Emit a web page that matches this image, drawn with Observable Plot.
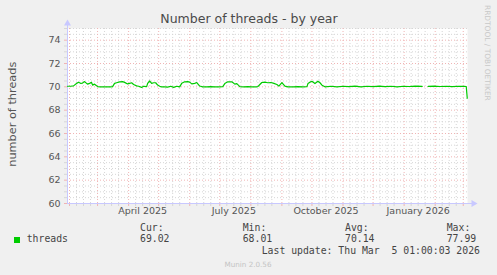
<!DOCTYPE html>
<html><head><meta charset="utf-8">
<script src="https://cdn.jsdelivr.net/npm/d3@7"></script>
<script src="https://cdn.jsdelivr.net/npm/@observablehq/plot@0.6"></script>
<style>
body{margin:0;background:#f0f0f0;}
#c{position:relative;width:497px;height:275px;background:#f0f0f0;overflow:hidden;}
</style></head><body><div id="c"></div>
<script>
// ---- data ----
const dates = [
 "2025-01-30","2025-02-02","2025-02-05","2025-02-08","2025-02-10","2025-02-12","2025-02-14","2025-02-16","2025-02-18","2025-02-19",
 "2025-02-21","2025-02-23","2025-02-24","2025-02-26","2025-02-28","2025-03-01","2025-03-04","2025-03-09","2025-03-14","2025-03-16",
 "2025-03-18","2025-03-20","2025-03-23","2025-03-26","2025-03-28","2025-03-31","2025-04-02","2025-04-04","2025-04-06","2025-04-09",
 "2025-04-11","2025-04-14","2025-04-16","2025-04-19","2025-04-20","2025-04-22","2025-04-24","2025-04-26","2025-04-28","2025-04-30",
 "2025-05-02","2025-05-04","2025-05-07","2025-05-10","2025-05-13","2025-05-16","2025-05-19","2025-05-22","2025-05-24","2025-05-27",
 "2025-05-30","2025-06-01","2025-06-03","2025-06-06","2025-06-08","2025-06-11","2025-06-14","2025-06-18","2025-06-22","2025-06-26",
 "2025-06-30","2025-07-04","2025-07-06","2025-07-09","2025-07-13","2025-07-16","2025-07-18","2025-07-21","2025-07-25","2025-07-29",
 "2025-08-02","2025-08-06","2025-08-08","2025-08-10","2025-08-12","2025-08-15","2025-08-18","2025-08-21","2025-08-24","2025-08-27",
 "2025-08-29","2025-09-01","2025-09-04","2025-09-07","2025-09-12","2025-09-17","2025-09-22","2025-09-26","2025-09-27","2025-09-29",
 "2025-10-01","2025-10-04","2025-10-07","2025-10-09","2025-10-11","2025-10-14","2025-10-20","2025-10-26","2025-11-01","2025-11-07",
 "2025-11-13","2025-11-19","2025-11-25","2025-12-01","2025-12-07","2025-12-13","2025-12-19","2025-12-25","2025-12-31","2026-01-06",
 "2026-01-12","2026-01-19","2026-01-22","2026-01-25","2026-01-31","2026-02-06","2026-02-12","2026-02-18","2026-02-24","2026-03-02",
 "2026-03-04","2026-03-05"
];
const threads = [
 70.05,70.05,70.08,70.28,70.40,70.30,70.32,70.45,70.30,70.23,
 70.30,70.38,70.15,70.23,70.10,70.02,70.00,70.00,70.00,70.02,
 70.30,70.35,70.43,70.45,70.38,70.25,70.30,70.35,70.20,70.08,
 70.05,69.95,70.05,70.02,70.30,70.50,70.30,70.35,70.35,70.15,
 70.05,70.00,70.00,69.98,70.05,69.95,70.05,70.00,70.30,70.43,
 70.45,70.40,70.25,70.30,70.37,70.07,70.00,70.00,70.02,70.00,
 70.00,70.02,70.28,70.43,70.43,70.23,70.28,70.02,70.00,70.02,
 70.00,70.00,70.02,70.20,70.37,70.40,70.35,70.37,70.30,70.20,
 70.06,70.37,70.06,70.00,70.00,70.02,70.00,70.02,70.28,70.40,
 70.48,70.28,70.48,70.35,70.14,70.00,70.05,70.00,70.05,70.02,
 70.06,70.00,70.05,70.02,70.06,70.02,70.05,70.00,70.05,70.03,
 70.06,70.04,null,70.04,70.06,70.03,70.05,70.02,70.05,70.04,
 70.03,69.02
];
const yTicks = [60,62,64,66,68,70,72,74];
const xLabelDates = ["2025-04-15","2025-07-15","2025-10-15","2026-01-15"];
const xLabels = ["April 2025","July 2025","October 2025","January 2026"];
const legendHeads = ["Cur:","Min:","Avg:","Max:"];
const legendValues = ["69.02","68.01","70.14","77.99"];
const seriesName = "threads";
const titleText = "Number of threads - by year";
const yTitle = "number of threads";
const lastUpdate = "Last update: Thu Mar  5 01:00:03 2026";

// ---- build ----
const data = dates.map((d, i) => ({date: new Date(d + "T00:00Z"), value: threads[i]}));
const start = new Date("2025-01-30T00:00Z"), end = new Date("2026-03-05T06:00Z");
const yMinor = d3.range(60.5, 75.01, 0.5).filter(v => v % 2 !== 0);
const xMajor = d3.utcMonth.range(start, end);
const xMinor = d3.utcDay.range(start, end).filter(d => [8, 15, 22].includes(d.getUTCDate()));
const labels = xLabelDates.map((d, i) => ({date: new Date(d + "T00:00Z"), label: xLabels[i]}));

const axisCol = "#c8c8ff", minorCol = "#d6d6d6", majorCol = "#f0b4b4";

const chart = Plot.plot({
  width: 497, height: 275,
  marginLeft: 67, marginRight: 30, marginTop: 28, marginBottom: 72,
  style: {background: "transparent", fontFamily: "DejaVu Sans, sans-serif", overflow: "visible"},
  x: {type: "utc", domain: [start, end], label: null},
  y: {domain: [60, 75], label: null},
  marks: [
    Plot.frame({fill: "white", stroke: null}),
    Plot.ruleY(yMinor, {stroke: minorCol, strokeDasharray: "1,2"}),
    Plot.ruleX(xMinor, {stroke: minorCol, strokeDasharray: "1,2"}),
    Plot.ruleY(yTicks.slice(1), {stroke: majorCol, strokeDasharray: "1,2"}),
    Plot.ruleX(xMajor, {stroke: majorCol, strokeDasharray: "1,2"}),
    Plot.axisY(yMinor, {tickSize: 3, stroke: minorCol, tickFormat: () => ""}),
    Plot.axisY(yTicks, {tickSize: 3, tickPadding: 4, stroke: majorCol, fill: "#555", fontSize: 9.5}),
    Plot.axisX(xMinor, {tickSize: 3, stroke: minorCol, tickFormat: () => ""}),
    Plot.axisX(xMajor, {tickSize: 3, stroke: majorCol, tickFormat: () => ""}),
    Plot.text(labels, {x: "date", text: "label", frameAnchor: "bottom", dy: 10, fill: "#555", fontSize: 9.5}),
    Plot.ruleX([start], {stroke: axisCol, insetTop: -4}),
    Plot.ruleY([60], {stroke: axisCol, insetRight: -5}),
    Plot.dot([{d: start, v: 75}], {x: "d", y: "v", symbol: "triangle", r: 2.6, fill: axisCol, stroke: null, dy: -5}),
    Plot.dot([{d: end, v: 60}], {x: "d", y: "v", symbol: "triangle", rotate: 90, r: 2.6, fill: axisCol, stroke: null, dx: 6}),
    Plot.line(data, {x: "date", y: "value", stroke: "#00cc00", strokeWidth: 1.2})
  ]
});
document.getElementById("c").appendChild(chart);

const svg = d3.select(chart);
const g = svg.append("g").attr("font-family", "DejaVu Sans, sans-serif");
g.append("text").attr("x", 249).attr("y", 22.5).attr("text-anchor", "middle")
  .attr("font-size", 12.5).attr("fill", "#4a4a4a").text(titleText);
g.append("text").attr("transform", "translate(15.5,114.2) rotate(-90)").attr("text-anchor", "middle")
  .attr("font-size", 11.3).attr("fill", "#555").text(yTitle);
g.append("text").attr("transform", "translate(484.5,5) rotate(90)").attr("text-anchor", "start")
  .attr("font-size", 7.45).attr("fill", "#c8c8c8").text("RRDTOOL / TOBI OETIKER");
g.append("text").attr("x", 248).attr("y", 267).attr("text-anchor", "middle")
  .attr("font-size", 7.2).attr("fill", "#c4c4c4").text("Munin 2.0.56");

const m = svg.append("g").attr("font-family", "DejaVu Sans Mono, monospace").attr("font-size", 9.8).attr("fill", "#444")
  .attr("text-anchor", "start").style("white-space", "pre").attr("xml:space", "preserve");
m.append("rect").attr("x", 14).attr("y", 237).attr("width", 6).attr("height", 6).attr("fill", "#00cc00");
m.append("text").attr("x", 26.7).attr("y", 242.4).text(seriesName);
const colX = [140, 242.7, 345, 446.7];
legendHeads.forEach((h, i) => {
  m.append("text").attr("x", colX[i]).attr("y", 231.2).text(h);
  m.append("text").attr("x", colX[i]).attr("y", 242.4).text(legendValues[i]);
});
m.append("text").attr("x", 261.7).attr("y", 254.4).text(lastUpdate);
</script></body></html>
